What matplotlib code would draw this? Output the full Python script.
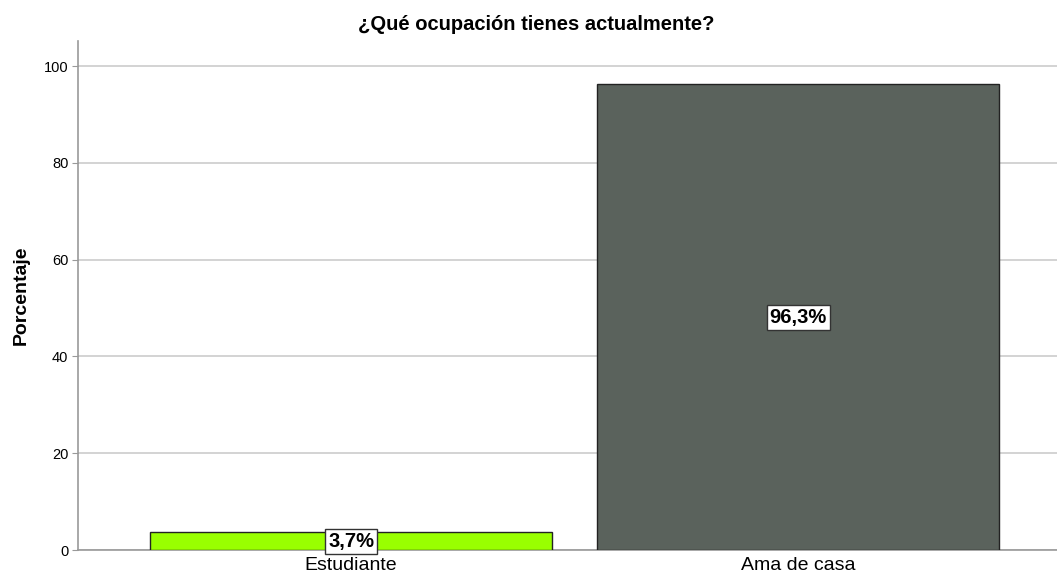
import matplotlib
matplotlib.use("Agg")
import matplotlib.pyplot as plt

categories = ["Estudiante", "Ama de casa"]
percentages = [3.7, 96.3]
bar_colors = ["#99ff00", "#5a625c"]
value_labels = ["3,7%", "96,3%"]
yticks = [0, 20, 40, 60, 80, 100]

plt.rcParams["font.family"] = ["Liberation Sans", "DejaVu Sans"]

fig = plt.figure(figsize=(10.57, 5.8), dpi=100)
ax = fig.add_axes([78 / 1057, 30 / 580, 979 / 1057, 509 / 580])

x = list(range(len(categories)))
ax.bar(x, percentages, width=0.9, color=bar_colors, edgecolor="#222222", linewidth=1, zorder=3)

# value labels sit in the middle of each bar, white box around them
for xi, val, lab in zip(x, percentages, value_labels):
    ax.text(xi, val / 2, lab, ha="center", va="center", fontsize=14.5, fontweight="bold",
            zorder=4,
            bbox=dict(boxstyle="square,pad=0.15", facecolor="white", edgecolor="#333333", linewidth=1))

ax.set_xlim(-0.611, 1.579)
ax.set_ylim(0, 105.2)
ax.set_xticks(x)
ax.set_xticklabels(categories, fontsize=14)
ax.set_yticks(yticks)
ax.set_yticklabels([str(t) for t in yticks], fontsize=10.5)
ax.tick_params(axis="x", length=0, pad=5)
ax.tick_params(axis="y", length=4, color="#999999", pad=3)

ax.grid(axis="y", color="#cccccc", linewidth=1.2, zorder=0)
for side in ["top", "right"]:
    ax.spines[side].set_visible(False)
for side in ["left", "bottom"]:
    ax.spines[side].set_color("#999999")
    ax.spines[side].set_linewidth(1.2)

ax.set_ylabel("Porcentaje", fontsize=14, fontweight="bold", labelpad=10)
fig.suptitle("¿Qué ocupación tienes actualmente?", x=536 / 1057, y=1 - 25 / 580, va="center",
             fontsize=14.5, fontweight="bold")

fig.savefig("out.png", dpi=100)
